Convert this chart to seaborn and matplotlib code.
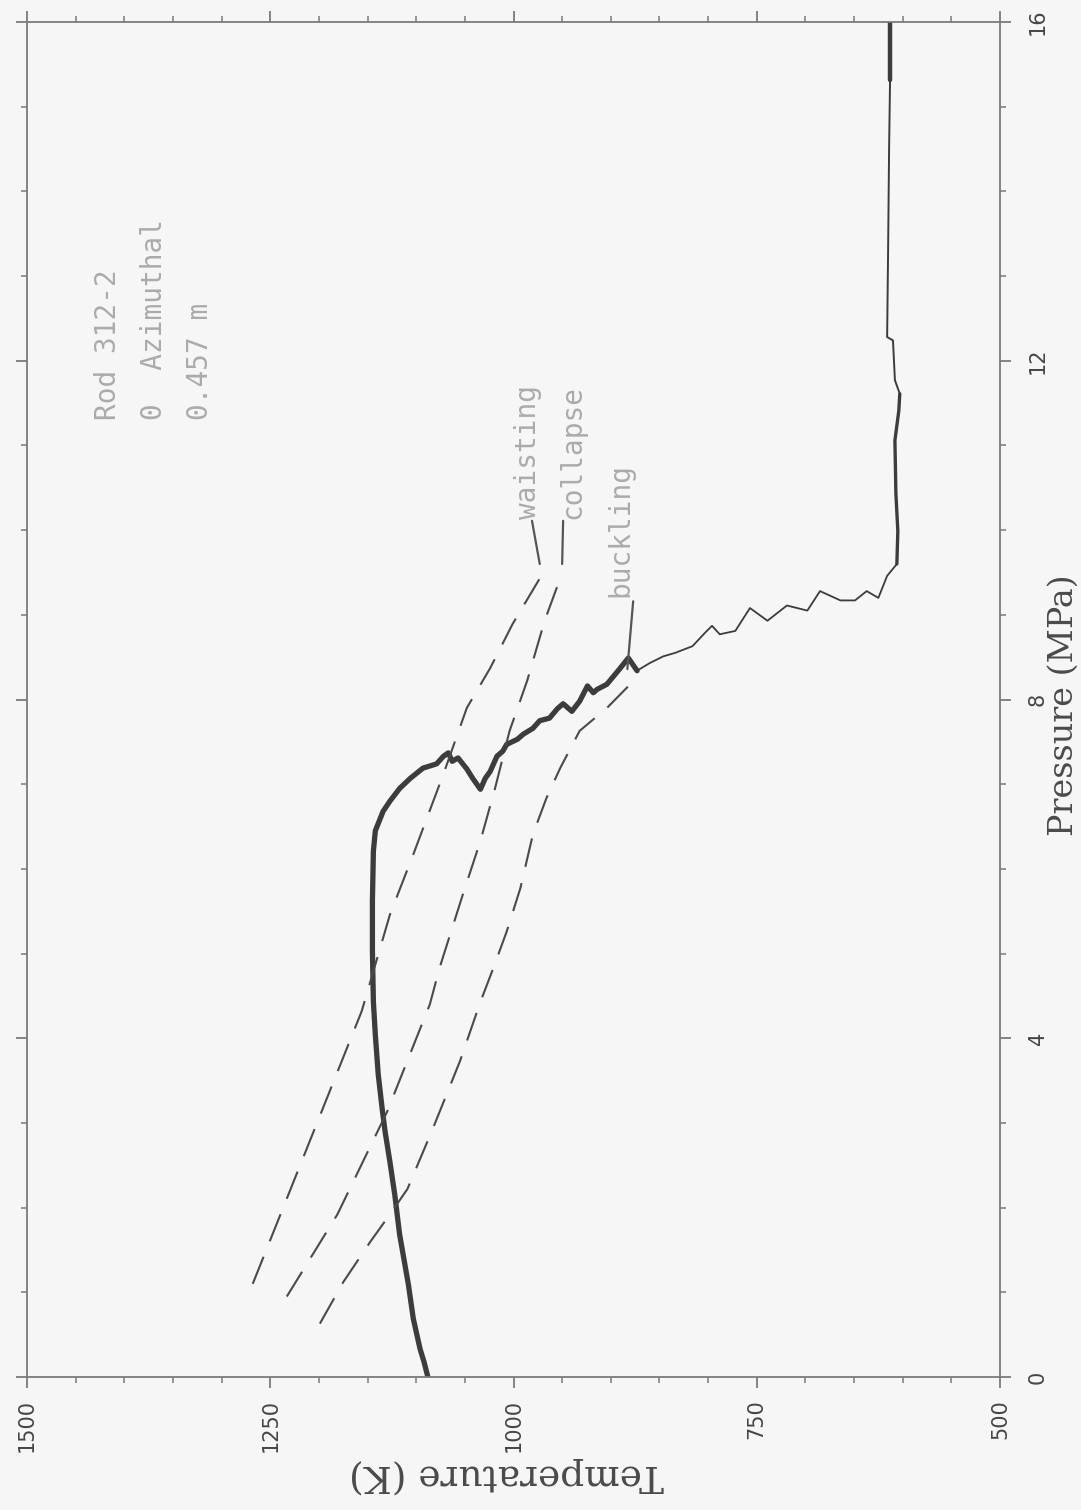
import matplotlib
matplotlib.use("Agg")
import matplotlib.pyplot as plt
from matplotlib.ticker import MultipleLocator
import seaborn as sns

# Cladding temperature trace of rod 312-2 versus system pressure
# (drawn rotated: temperature runs right-to-left, pressure bottom-to-top)
thick_temp = [1088, 1092, 1096, 1103, 1108, 1117, 1122, 1127, 1132, 1135, 1139, 1142,
              1144, 1145, 1145, 1144, 1142, 1134, 1127, 1117, 1106, 1093, 1079, 1072,
              1067, 1063, 1057, 1048, 1042, 1034, 1029, 1024, 1017, 1011, 1007, 996,
              990, 980, 973, 963, 955, 949, 940, 932, 924, 918, 914, 904, 891, 882, 873]
thick_pres = [0.00, 0.18, 0.33, 0.69, 1.09, 1.68, 2.15, 2.54, 2.90, 3.17, 3.57, 4.04,
              4.43, 5.03, 5.62, 6.21, 6.45, 6.68, 6.80, 6.95, 7.07, 7.19, 7.24, 7.33,
              7.37, 7.27, 7.31, 7.18, 7.07, 6.94, 7.07, 7.15, 7.33, 7.39, 7.47, 7.53,
              7.59, 7.66, 7.75, 7.78, 7.89, 7.95, 7.86, 7.98, 8.16, 8.08, 8.12, 8.18,
              8.36, 8.49, 8.34]

thin_temp = [873, 860, 846, 834, 816, 803, 796, 788, 772, 757, 739, 719, 698, 685,
             664, 649, 637, 625, 616, 606]
thin_pres = [8.34, 8.43, 8.51, 8.55, 8.63, 8.79, 8.87, 8.77, 8.81, 9.08, 8.93, 9.11,
             9.05, 9.28, 9.17, 9.17, 9.28, 9.20, 9.46, 9.60]

sat_low_temp = [606, 605, 607, 608, 604, 603]
sat_low_pres = [9.60, 9.99, 10.43, 11.06, 11.41, 11.61]

sat_high_temp = [603, 608, 610, 616, 615, 614, 613]
sat_high_pres = [11.61, 11.77, 12.24, 12.28, 13.30, 14.49, 15.31]

top_temp = [613, 613]
top_pres = [15.31, 16.0]

# Failure thresholds
waisting_temp = [1268, 1156, 1127, 1103, 1072, 1048, 1024, 1001, 973]
waisting_pres = [1.10, 4.32, 5.46, 6.17, 7.12, 7.90, 8.37, 8.89, 9.43]

collapse_temp = [1233, 1181, 1130, 1086, 1076, 1052, 1034, 1019, 1004, 986, 968, 952]
collapse_pres = [0.95, 1.92, 3.13, 4.40, 4.83, 5.70, 6.33, 6.95, 7.63, 8.22, 8.93, 9.43]

buckling_temp = [1199, 1175, 1147, 1127, 1109, 1083, 1055, 1034, 1021, 1007, 993,
                 980, 966, 952, 932, 904, 880]
buckling_pres = [0.63, 1.12, 1.60, 1.92, 2.22, 2.93, 3.73, 4.43, 4.82, 5.26, 5.77,
                 6.41, 6.84, 7.19, 7.63, 7.90, 8.18]

temp_ticks = [500, 750, 1000, 1250, 1500]
pres_ticks = [0, 4, 8, 12, 16]

sns.set_theme(style="ticks")
plt.rcParams['font.family'] = ['DejaVu Sans']

paper = '#f6f6f6'
ink = '#3c3c3c'
faint = '#ababab'
frame = '#7a7a7a'

fig = plt.figure(figsize=(10.81, 15.10), dpi=100, facecolor=paper)
ax = fig.add_axes([27 / 1081, 1 - 1377 / 1510, 973 / 1081, 1355 / 1510])
ax.set_facecolor(paper)

# measured trace, drawn in pieces of differing pen weight
for t, p, lw in [(thick_temp, thick_pres, 3.8),
                 (thin_temp, thin_pres, 1.3),
                 (sat_low_temp, sat_low_pres, 2.4),
                 (sat_high_temp, sat_high_pres, 1.4),
                 (top_temp, top_pres, 3.2)]:
    sns.lineplot(x=t, y=p, sort=False, estimator=None, ax=ax, color=ink,
                 linewidth=lw, legend=False, solid_capstyle='round')

# dashed threshold curves
for t, p in [(waisting_temp, waisting_pres),
             (collapse_temp, collapse_pres),
             (buckling_temp, buckling_pres)]:
    sns.lineplot(x=t, y=p, sort=False, estimator=None, ax=ax, color='#4a4a4a',
                 linewidth=1.5, linestyle=(0, (14, 8)), legend=False)

ax.set_xlim(1500, 500)
ax.set_ylim(0, 16)
ax.set_xticks(temp_ticks)
ax.set_xticklabels([str(v) for v in temp_ticks])
ax.set_yticks(pres_ticks)
ax.set_yticklabels([str(v) for v in pres_ticks])
ax.xaxis.set_minor_locator(MultipleLocator(50))
ax.yaxis.set_minor_locator(MultipleLocator(1))

ax.tick_params(which='both', direction='out', top=True, bottom=True, left=True,
               right=True, labelleft=False, labelright=True, labelbottom=True,
               labeltop=False, color=frame, labelcolor='#454545')
ax.tick_params(which='major', length=8, width=1.3, labelsize=15)
ax.tick_params(which='minor', length=4, width=1.1)
ax.tick_params(axis='x', which='major', pad=8, labelrotation=90)
ax.tick_params(axis='y', which='major', pad=12, labelrotation=90)
for lab in ax.get_yticklabels():
    lab.set_va('center')
for side in ax.spines.values():
    side.set_visible(True)
    side.set_color(frame)
    side.set_linewidth(1.3)
ax.grid(False)

# axis titles
fig.text(506 / 1081, 1 - 1475 / 1510, "Temperature (K)", rotation=180,
         ha='center', va='center', fontsize=27, family='DejaVu Serif', color='#4a4a4a')
fig.text(1064 / 1081, 1 - 705 / 1510, "Pressure (MPa)", rotation=90,
         ha='center', va='center', fontsize=24, family='DejaVu Serif', color='#4a4a4a')

# rod identification
mono = dict(rotation=90, ha='center', va='bottom', fontsize=20, color=faint,
            family='DejaVu Sans Mono')
ax.text(1417, 11.30, "Rod 312-2", **mono)
ax.text(1369, 11.30, "0  Azimuthal", **mono)
ax.text(1322, 11.30, "0.457 m", **mono)

# threshold labels with leader lines
ax.text(985, 10.13, "waisting", **mono)
ax.text(939, 10.13, "collapse", **mono)
ax.text(890, 9.21, "buckling", **mono)
for t, p in [([981, 973], [10.11, 9.60]),
             ([949, 950], [10.11, 9.60]),
             ([877, 883], [9.16, 8.36])]:
    sns.lineplot(x=t, y=p, sort=False, estimator=None, ax=ax, color='#555555',
                 linewidth=1.6, legend=False)

fig.savefig("out.png", dpi=100, facecolor=paper)
